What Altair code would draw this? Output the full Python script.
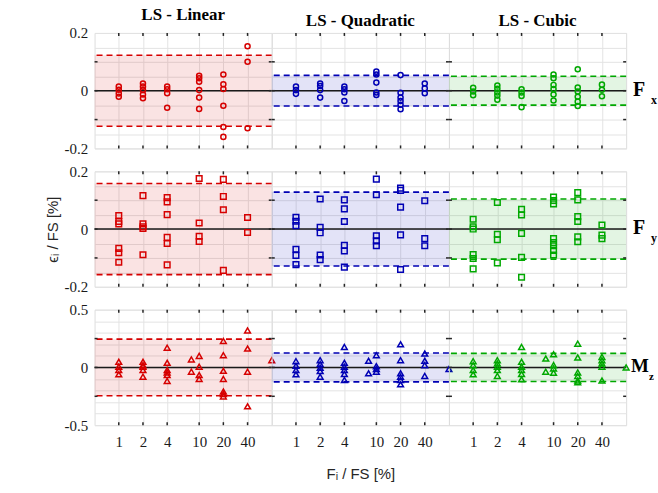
import altair as alt
import pandas as pd

# ---------------- data ----------------
X_TICKS = [1, 2, 4, 10, 20, 40]
COLUMN_TITLES = ["LS - Linear", "LS - Quadratic", "LS - Cubic"]
ROW_LABELS = [("F", "x"), ("F", "y"), ("M", "z")]

fx_linear = {1: [0.014, 0.003, -0.010, -0.021],
             2: [0.025, 0.014, 0.002, -0.013, -0.026],
             4: [0.014, 0.005, -0.009, -0.059],
             10: [0.052, 0.043, 0.031, 0.002, -0.024, -0.063],
             20: [0.056, 0.022, 0.006, -0.052, -0.126, -0.160],
             40: [0.154, 0.100, -0.130]}
fx_quadratic = {1: [0.014, 0.002, -0.011],
                2: [0.025, 0.016, 0.002, -0.024],
                4: [0.014, 0.005, -0.006, -0.036],
                10: [0.066, 0.056, 0.028, -0.006, -0.015],
                20: [0.054, -0.007, -0.024, -0.036, -0.049, -0.064],
                40: [0.025, 0.008, -0.009]}
fx_cubic = {1: [0.010, -0.003, -0.016],
            2: [0.018, 0.007, -0.006, -0.017, -0.031],
            4: [0.005, -0.006, -0.018, -0.057],
            10: [0.056, 0.043, 0.020, 0.006, -0.013, -0.034],
            20: [0.074, 0.011, -0.003, -0.021, -0.038, -0.053],
            40: [0.021, 0.003, -0.019]}

fy_linear = {1: [0.047, 0.026, 0.018, -0.067, -0.082, -0.115],
             2: [0.116, 0.018, 0.008, 0.002, -0.089],
             4: [0.109, 0.094, 0.050, -0.029, -0.050, -0.124],
             10: [0.175, 0.021, -0.025, -0.043],
             20: [0.172, 0.113, 0.067, -0.143],
             40: [0.040, -0.012]}
fy_quadratic = {1: [0.041, 0.027, 0.012, -0.070, -0.091, -0.123],
                2: [0.104, 0.006, -0.013, -0.090, -0.106],
                4: [0.101, 0.070, 0.026, -0.056, -0.076, -0.132],
                10: [0.173, 0.119, -0.023, -0.041, -0.058],
                20: [0.142, 0.134, 0.076, -0.020, -0.140],
                40: [0.098, -0.033, -0.058]}
fy_cubic = {1: [0.034, 0.008, 0.0, -0.088, -0.102, -0.138],
            2: [0.092, -0.018, -0.037, -0.117],
            4: [0.068, 0.049, -0.015, -0.098, -0.167],
            10: [0.111, 0.099, 0.087, -0.033, -0.047, -0.058, -0.074, -0.090],
            20: [0.126, 0.101, 0.043, 0.026, -0.027, -0.044],
            40: [0.014, -0.021, -0.033]}

mz_linear = {1: [0.049, 0.006, -0.023, -0.060],
             2: [0.049, 0.020, 0.006, -0.023, -0.080],
             4: [0.171, 0.040, -0.023, -0.043, -0.066, -0.117],
             8: [0.069, -0.037],
             10: [0.100, 0.006, -0.066, -0.100],
             20: [0.229, 0.106, -0.029, -0.100, -0.209, -0.231, -0.251],
             40: [0.320, 0.163, -0.037, -0.337],
             80: [0.063]}
mz_quadratic = {1: [0.054, 0.014, -0.023, -0.060],
                2: [0.063, 0.029, -0.003, -0.031, -0.080],
                4: [0.177, 0.040, 0.006, -0.023, -0.057, -0.109],
                8: [0.057, -0.051],
                10: [0.106, 0.011, -0.014, -0.037],
                20: [0.200, 0.063, -0.051, -0.080, -0.109, -0.146],
                40: [0.120, 0.057, 0.020, -0.074],
                80: [-0.014]}
mz_cubic = {1: [0.054, 0.020, -0.023, -0.060],
            2: [0.063, 0.034, 0.006, -0.023, -0.074],
            4: [0.177, 0.049, 0.006, -0.023, -0.057, -0.103],
            8: [0.077, -0.037],
            10: [0.114, 0.020, -0.009, -0.046],
            20: [0.206, 0.086, -0.043, -0.074, -0.114, -0.129],
            40: [0.091, 0.063, 0.034, 0.006, -0.114],
            80: [0.0]}

# half-widths of the dashed bands (row x column)
band_fx = [0.123, 0.053, 0.050]
band_fy = [0.158, 0.128, 0.104]
band_mz = [0.245, 0.125, 0.122]

POINTS = [[fx_linear, fx_quadratic, fx_cubic],
          [fy_linear, fy_quadratic, fy_cubic],
          [mz_linear, mz_quadratic, mz_cubic]]
BANDS = [band_fx, band_fy, band_mz]

Y_DOMAINS = [[-0.2, 0.2], [-0.2, 0.2], [-0.5, 0.5]]
Y_GRID = [[-0.2, -0.15, -0.1, -0.05, 0, 0.05, 0.1, 0.15, 0.2],
          [-0.2, -0.15, -0.1, -0.05, 0, 0.05, 0.1, 0.15, 0.2],
          [-0.5, -0.4, -0.3, -0.2, -0.1, 0, 0.1, 0.2, 0.3, 0.4, 0.5]]
Y_MINOR_TICKS = [[-0.1, 0.1], [-0.1, 0.1], [-0.25, 0.25]]

# ---------------- style ----------------
COLORS = ["#d60000", "#0000b4", "#00a800"]
SHAPES = ["circle", "square", "triangle-up"]
SIZES = [26, 32, 34]
SERIF = "Liberation Serif"
SANS = "Liberation Sans"
GRID = "#e3e3e3"
FRAME = "#262626"
W, H = 178, 116


def panel(r, c):
    color = COLORS[c]
    left = c == 0
    bottom = r == 2
    xs = alt.Scale(type="log", domain=[0.5, 80], nice=False)
    ys = alt.Scale(domain=Y_DOMAINS[r], nice=False, zero=False)
    top = Y_DOMAINS[r][1]
    label_expr = (
        f"datum.value == 0 ? '0' : abs(datum.value) > {top * 0.95} ? "
        "(datum.value < 0 ? '-' : '') + format(abs(datum.value), '~g') : ''"
    )
    y_kwargs = dict(values=Y_GRID[r], grid=True, gridColor=GRID, gridWidth=1,
                    ticks=False, domain=False, labels=left)
    if left:
        y_kwargs.update(labelExpr=label_expr, labelFont=SERIF, labelFontSize=15,
                        labelColor="#1a1a1a", labelPadding=7)
    if left and r == 1:
        y_kwargs.update(title="ϵᵢ / FS [%]", titleFont=SANS, titleFontSize=15,
                        titleFontWeight="normal", titleColor="#262626", titlePadding=3)
    else:
        y_kwargs.update(title=None)
    yaxis = alt.Axis(**y_kwargs)

    x_kwargs = dict(values=X_TICKS, grid=True, gridColor=GRID, gridWidth=1,
                    ticks=False, domain=False, labels=bottom)
    if bottom:
        x_kwargs.update(format="~g", labelFont=SERIF, labelFontSize=15,
                        labelColor="#1a1a1a", labelPadding=9, labelFlush=False)
    if bottom and c == 1:
        x_kwargs.update(title="Fᵢ / FS [%]", titleFont=SANS, titleFontSize=15,
                        titleFontWeight="normal", titleColor="#262626", titlePadding=18)
    else:
        x_kwargs.update(title=None)
    xaxis = alt.Axis(**x_kwargs)

    def Y(field):
        return alt.Y(field, type="quantitative", scale=ys, axis=yaxis)

    def X(field):
        return alt.X(field, type="quantitative", scale=xs, axis=xaxis)

    pts = POINTS[r][c]
    df_pts = pd.DataFrame([(x, y) for x, yy in pts.items() for y in yy], columns=["load", "err"])
    b = BANDS[r][c]
    df_band = pd.DataFrame({"lo": [-b], "hi": [b]})
    df_dash = pd.DataFrame({"v": [-b, b]})
    df_zero = pd.DataFrame({"v": [0.0]})
    df_xt = pd.DataFrame({"t": X_TICKS})
    df_yt = pd.DataFrame({"t": Y_MINOR_TICKS[r] + [0.0]})

    band = alt.Chart(df_band).mark_rect(color=color, opacity=0.11).encode(
        x=alt.value(0), x2=alt.value(W), y=Y("lo"), y2="hi")
    zero = alt.Chart(df_zero).mark_rule(color="#1a1a1a", strokeWidth=1.5).encode(y=Y("v"))
    dash = alt.Chart(df_dash).mark_rule(color=color, strokeWidth=1.6, strokeDash=[6, 4]).encode(y=Y("v"))
    xt_top = alt.Chart(df_xt).mark_rule(color=FRAME, strokeWidth=1.5).encode(
        x=X("t"), y=alt.value(0), y2=alt.value(3))
    xt_bot = alt.Chart(df_xt).mark_rule(color=FRAME, strokeWidth=1.5).encode(
        x=X("t"), y=alt.value(H - 3), y2=alt.value(H))
    yt_left = alt.Chart(df_yt).mark_rule(color=FRAME, strokeWidth=1.5).encode(
        y=Y("t"), x=alt.value(0), x2=alt.value(3))
    yt_right = alt.Chart(df_yt).mark_rule(color=FRAME, strokeWidth=1.5).encode(
        y=Y("t"), x=alt.value(W - 3), x2=alt.value(W))
    points = alt.Chart(df_pts).mark_point(shape=SHAPES[r], filled=False, size=SIZES[r],
                                          strokeWidth=1.5, color=color, opacity=1).encode(
        x=X("load"), y=Y("err"))

    layers = [band, zero, dash, xt_top, xt_bot, yt_left, yt_right, points]

    if c == 2:
        main, sub = ROW_LABELS[r]
        if main == "F":
            main_x, main_size, sub_x, sub_size = W + 7, 20, W + 25, 12
        else:
            main_x, main_size, sub_x, sub_size = W + 5, 19, W + 23, 11
        lab = alt.Chart(pd.DataFrame({"t": [main]})).mark_text(
            align="left", baseline="alphabetic", font=SERIF, fontWeight="bold",
            fontSize=main_size, color="black").encode(
            x=alt.value(main_x), y=alt.value(H / 2 + 5), text="t:N")
        sublab = alt.Chart(pd.DataFrame({"t": [sub]})).mark_text(
            align="left", baseline="alphabetic", font=SERIF, fontWeight="bold",
            fontSize=sub_size, color="black").encode(
            x=alt.value(sub_x), y=alt.value(H / 2 + 13), text="t:N")
        layers += [lab, sublab]

    ch = alt.layer(*layers).properties(width=W, height=H)
    if r == 0:
        ch = ch.properties(title=alt.TitleParams(
            COLUMN_TITLES[c], font=SERIF, fontSize=17, fontWeight="bold",
            color="black", anchor="middle", offset=2))
    return ch


panels = [panel(r, c) for r in range(3) for c in range(3)]
chart = alt.concat(*panels, columns=3, spacing={"row": 23, "column": 0},
                   bounds="flush").properties(
    padding={"left": 45, "top": 4, "right": 0, "bottom": 0}
).configure_view(stroke=FRAME, strokeWidth=2).configure_axis(
    labelFont=SERIF, titleFont=SANS
).configure(background="white")

chart.save("out.html", embed_options={"renderer": "svg", "actions": False})
